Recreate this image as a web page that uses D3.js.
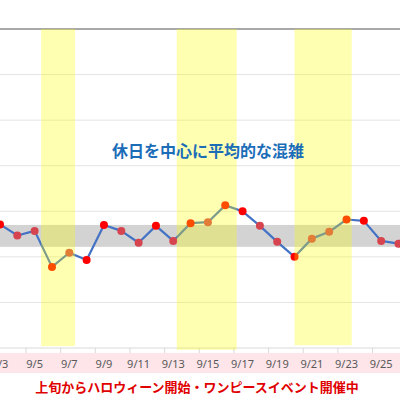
<!DOCTYPE html>
<html>
<head>
<meta charset="utf-8">
<script src="https://cdn.jsdelivr.net/npm/d3@7"></script>
<style>
  html, body { margin: 0; padding: 0; background: #fff; }
  svg { display: block; }
</style>
</head>
<body>
<div id="chart"></div>
<script>
// --------------- Data ---------------
const days = [3, 4, 5, 6, 7, 8, 9, 10, 11, 12, 13, 14, 15, 16, 17, 18, 19, 20, 21, 22, 23, 24, 25, 26];
const crowd = [27.1, 24.7, 25.7, 17.8, 20.9, 19.3, 27.0, 25.7, 23.1, 26.8, 23.5, 27.4,
  27.6, 31.3, 30.0, 26.8, 23.3, 20.0, 24.0, 25.5, 28.2, 27.9, 23.5, 22.9];
// "hi" = bright red marker, "lo" = muted red marker
const markerKind = ["hi", "lo", "lo", "hi", "lo", "hi", "hi", "lo", "lo", "hi", "lo", "hi",
  "lo", "hi", "hi", "lo", "lo", "hi", "lo", "lo", "hi", "hi", "lo", "lo"];
const avgLow = 22.2;
const avgHigh = 27.0;
const holidayStart = [5.37, 13.2, 20.0];
const holidayEnd = [7.33, 16.66, 23.3];
const holidayBottom = [0.4, -0.4, 0.6];
const labelDays = [3, 5, 7, 9, 11, 13, 15, 17, 19, 21, 23, 25];
const tickDays = [4.5, 6.5, 8.5, 10.5, 12.5, 14.5, 16.5, 18.5, 20.5, 22.5, 24.5];
const gridValues = [0, 10, 20, 30, 40, 50, 60, 70];
const title = "休日を中心に平均的な混雑";
const note = "上旬からハロウィーン開始・ワンピースイベント開催中";

// --------------- Constants ---------------
const WIDTH = 400;
const HEIGHT = 400;
const PLOT_TOP = 29;
const PLOT_BOTTOM = 348;
const COLORS = { hi: "#ff0000", lo: "#d6454f" };

// --------------- Prep SVG ---------------
const svg = d3
  .select("#chart")
  .append("svg")
  .attr("width", WIDTH)
  .attr("height", HEIGHT);

const x = d3.scaleLinear().domain([3, 26]).range([0, 398.5]);
const y = d3.scaleLinear().domain([0, 70]).range([PLOT_BOTTOM, PLOT_TOP]);

// pink strip behind the date labels
svg
  .append("rect")
  .attr("x", 0)
  .attr("y", 353)
  .attr("width", WIDTH)
  .attr("height", 20)
  .attr("fill", "#fde5e9");

// gridlines
svg
  .selectAll(".grid")
  .data(gridValues)
  .join("line")
  .attr("x1", 0)
  .attr("x2", WIDTH)
  .attr("y1", (d) => y(d))
  .attr("y2", (d) => y(d))
  .attr("stroke", (d) => (d === 70 ? "#8c8c8c" : d === 0 ? "#d9d9d9" : "#e4e4e4"))
  .attr("stroke-width", (d) => (d === 70 ? 1.3 : 1));

// ticks between categories
svg
  .selectAll(".tick")
  .data(tickDays)
  .join("line")
  .attr("x1", (d) => x(d))
  .attr("x2", (d) => x(d))
  .attr("y1", y(0))
  .attr("y2", y(0) + 5)
  .attr("stroke", "#d9d9d9");

// average range band
svg
  .append("rect")
  .attr("x", 0)
  .attr("y", y(avgHigh))
  .attr("width", WIDTH)
  .attr("height", y(avgLow) - y(avgHigh))
  .attr("fill", "#d3d3d3");

// line
const line = d3
  .line()
  .x((d, i) => x(days[i]))
  .y((d) => y(d));

svg
  .append("path")
  .attr("d", line(crowd))
  .attr("fill", "none")
  .attr("stroke", "#4472c4")
  .attr("stroke-width", 2.2)
  .attr("stroke-linejoin", "round");

// markers
svg
  .selectAll(".dot")
  .data(crowd)
  .join("circle")
  .attr("cx", (d, i) => x(days[i]))
  .attr("cy", (d) => y(d))
  .attr("r", 4)
  .attr("fill", (d, i) => COLORS[markerKind[i]]);

// holiday highlights laid over everything
svg
  .selectAll(".holiday")
  .data(holidayStart)
  .join("rect")
  .attr("x", (d) => x(d))
  .attr("y", y(70))
  .attr("width", (d, i) => x(holidayEnd[i]) - x(d))
  .attr("height", (d, i) => y(holidayBottom[i]) - y(70))
  .attr("fill", "#ffff00")
  .attr("opacity", 0.3);

// date labels
svg
  .selectAll(".label")
  .data(labelDays)
  .join("text")
  .text((d) => `9/${d}`)
  .attr("x", (d) => x(d))
  .attr("y", 368)
  .attr("text-anchor", "middle")
  .attr("font-family", "'Noto Sans', sans-serif")
  .attr("font-size", "11px")
  .attr("fill", "#595959");

// title
svg
  .append("text")
  .text(title)
  .attr("x", 208)
  .attr("y", 157)
  .attr("text-anchor", "middle")
  .attr("font-family", "'Noto Sans CJK JP', sans-serif")
  .attr("font-size", "16px")
  .attr("font-weight", "bold")
  .attr("fill", "#1b6db8");

// bottom note
svg
  .append("text")
  .text(note)
  .attr("x", 197)
  .attr("y", 392)
  .attr("text-anchor", "middle")
  .attr("font-family", "'Noto Sans CJK JP', sans-serif")
  .attr("font-size", "13px")
  .attr("font-weight", "bold")
  .attr("fill", "#e00000");
</script>
</body>
</html>
